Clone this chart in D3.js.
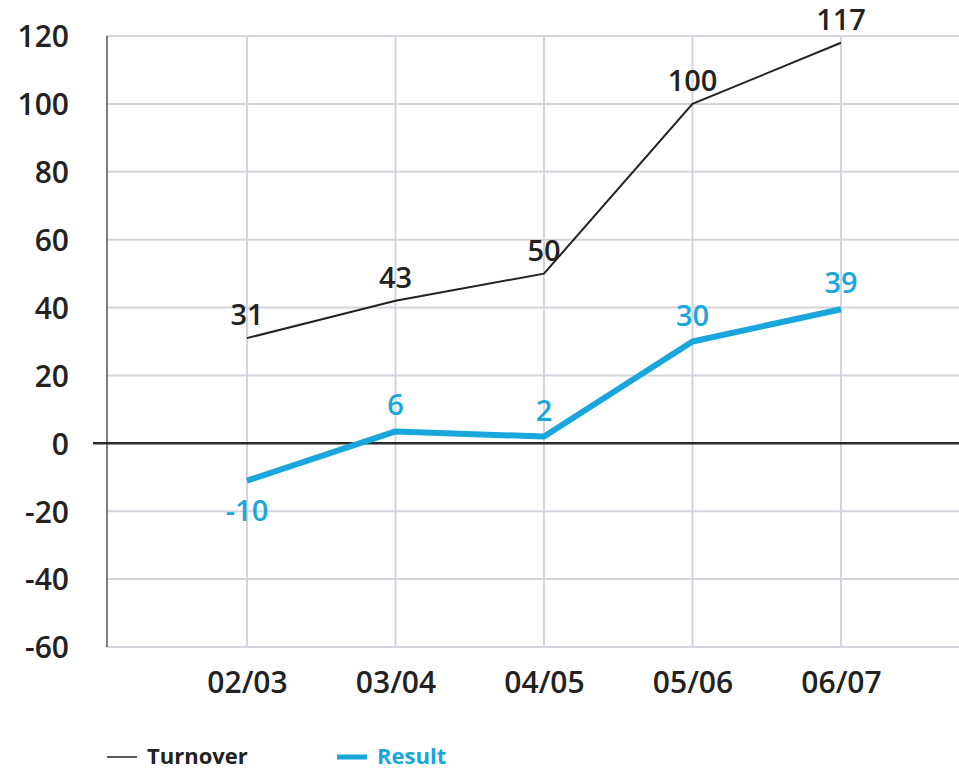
<!DOCTYPE html>
<html><head><meta charset="utf-8">
<script src="https://cdn.jsdelivr.net/npm/d3@7"></script>
<style>body{margin:0;background:#fff}svg{display:block}</style>
</head><body>
<svg id="c" width="959" height="771"></svg>
<script>
const categories = ["02/03","03/04","04/05","05/06","06/07"];
const turnover = [31, 42, 50, 100, 118];
const turnoverLabels = ["31","43","50","100","117"];
const result = [-11, 3.5, 2, 30, 39.5];
const resultLabels = ["-10","6","2","30","39"];
const yTicks = [-60,-40,-20,0,20,40,60,80,100,120];
const seriesNames = ["Turnover","Result"];

const BLUE = "#19a6dc";
const FONT = "'Open Sans', 'DejaVu Sans', sans-serif";
const svg = d3.select("#c");
const x = d3.scalePoint().domain(categories).range([247, 841]);
const y = d3.scaleLinear().domain([-60, 120]).range([647, 36]);
const left = 107, right = 959;

// horizontal grid
svg.append("g").selectAll("line").data(yTicks.filter(d => d !== 0)).join("line")
  .attr("x1", left).attr("x2", right)
  .attr("y1", d => y(d)).attr("y2", d => y(d))
  .attr("stroke", "#d4d4dc").attr("stroke-width", 2);
// vertical grid
svg.append("g").selectAll("line").data(categories).join("line")
  .attr("x1", d => x(d)).attr("x2", d => x(d))
  .attr("y1", y(120)).attr("y2", y(-60))
  .attr("stroke", "#d4d4dc").attr("stroke-width", 2);
// left axis line
svg.append("line").attr("x1", left).attr("x2", left)
  .attr("y1", y(120)).attr("y2", y(-60))
  .attr("stroke", "#555").attr("stroke-width", 1.5);
// zero line
svg.append("line").attr("x1", 93).attr("x2", right)
  .attr("y1", y(0)).attr("y2", y(0))
  .attr("stroke", "#2a2a2a").attr("stroke-width", 2.5);

// y axis labels
const yAxis = d3.axisLeft(y).tickValues(yTicks).tickSize(0).tickPadding(0).tickFormat(d => String(d));
const gy = svg.append("g").attr("transform", "translate(69,0)").call(yAxis);
gy.select(".domain").remove();
gy.selectAll("text").attr("font-family", FONT).attr("font-size", 30)
  .attr("font-weight", 600).attr("fill", "#222").attr("dy", "0.36em");

// x axis labels
const xAxis = d3.axisBottom(x).tickSize(0).tickPadding(0);
const gx = svg.append("g").attr("transform", "translate(0,682)").call(xAxis);
gx.select(".domain").remove();
gx.selectAll("text").attr("font-family", FONT).attr("font-size", 30)
  .attr("font-weight", 600).attr("fill", "#222").attr("dy", "0.36em");

const line = d3.line().x((d, i) => x(categories[i])).y(d => y(d));
svg.append("path").datum(turnover).attr("d", line).attr("fill", "none")
  .attr("stroke", "#222").attr("stroke-width", 2);
svg.append("path").datum(result).attr("d", line).attr("fill", "none")
  .attr("stroke", BLUE).attr("stroke-width", 6).attr("stroke-linejoin", "round");

// data labels
svg.append("g").selectAll("text").data(turnover).join("text")
  .attr("x", (d, i) => x(categories[i]))
  .attr("y", d => y(d) - 13)
  .attr("text-anchor", "middle").attr("font-family", FONT).attr("font-size", 29)
  .attr("font-weight", 600).attr("fill", "#222")
  .text((d, i) => turnoverLabels[i]);
svg.append("g").selectAll("text").data(result).join("text")
  .attr("x", (d, i) => x(categories[i]))
  .attr("y", d => d < 0 ? y(d) + 40 : y(d) - 16)
  .attr("text-anchor", "middle").attr("font-family", FONT).attr("font-size", 29)
  .attr("font-weight", 600).attr("fill", BLUE)
  .text((d, i) => resultLabels[i]);

// legend
const legend = svg.append("g");
const legItems = [
  {name: seriesNames[0], color: "#222", w: 1.5, text: "#222", x0: 107},
  {name: seriesNames[1], color: BLUE, w: 5, text: BLUE, x0: 337}
];
legItems.forEach(it => {
  legend.append("line").attr("x1", it.x0).attr("x2", it.x0 + 30)
    .attr("y1", 757).attr("y2", 757).attr("stroke", it.color).attr("stroke-width", it.w);
  legend.append("text").attr("x", it.x0 + 40).attr("y", 764)
    .attr("font-family", FONT).attr("font-size", 22).attr("font-weight", 700)
    .attr("fill", it.text).text(it.name);
});
</script>
</body></html>
